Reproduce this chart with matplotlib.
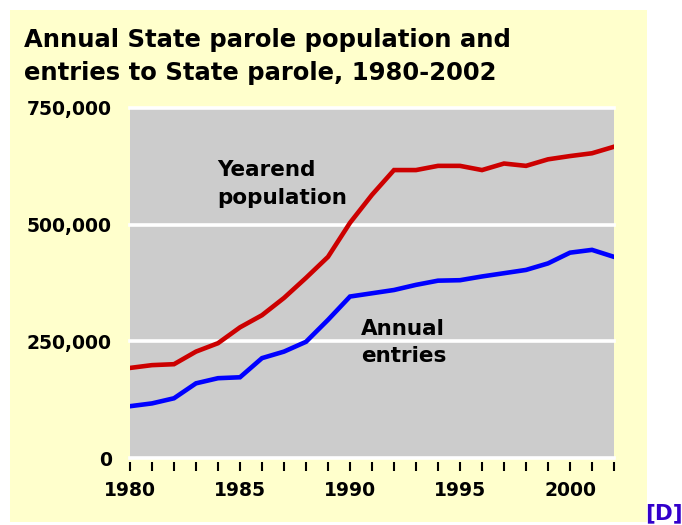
import matplotlib
matplotlib.use("Agg")
import matplotlib.pyplot as plt
from matplotlib.patches import Rectangle
from matplotlib.ticker import FuncFormatter

W, H = 682, 525

years = list(range(1980, 2003))
population = [193, 199, 201, 228, 246, 280, 306, 343, 386, 431, 504, 564, 617,
              617, 626, 626, 617, 631, 626, 640, 647, 653, 667]
entries = [111, 117, 128, 160, 171, 173, 214, 228, 249, 296, 346, 353, 360,
           371, 380, 381, 389, 396, 403, 417, 440, 446, 431]
population = [v * 1000 for v in population]
entries = [v * 1000 for v in entries]
ytick_vals = [0, 250000, 500000, 750000]
xtick_labels = [1980, 1985, 1990, 1995, 2000]

plt.rcParams['font.family'] = ['DejaVu Sans']

fig = plt.figure(figsize=(W / 100, H / 100), dpi=100)
fig.patch.set_facecolor('white')


def fx(x):
    return x / W


def fy(y):
    return 1 - y / H


# yellow panel
fig.patches.append(Rectangle((fx(10), fy(522)), (647 - 10) / W, (522 - 10) / H,
                             transform=fig.transFigure, facecolor='#FFFFCC',
                             edgecolor='none', zorder=-10))

ax = fig.add_axes([fx(130), fy(458), (614 - 130) / W, (458 - 108) / H])
ax.set_zorder(1)
ax.set_facecolor('#CCCCCC')
ax.set_xlim(1980, 2002)
ax.set_ylim(0, 750000)

for v in ytick_vals:
    ax.axhline(v, color='white', lw=2.6, clip_on=False, zorder=1)

ax.plot(years, population, color='#CC0000', lw=3.3, zorder=3,
        solid_joinstyle='miter')
ax.plot(years, entries, color='#0000FF', lw=3.3, zorder=3,
        solid_joinstyle='miter')

for s in ax.spines.values():
    s.set_visible(False)
ax.spines['bottom'].set_position(('outward', 3))

ax.set_xticks(years)
ax.set_xticklabels([str(y) if y in xtick_labels else '' for y in years])
ax.tick_params(axis='x', direction='out', length=6.5, width=1.5, color='black',
               pad=7, labelsize=13.5)
ax.set_yticks(ytick_vals)
ax.yaxis.set_major_formatter(FuncFormatter(lambda v, p: f"{int(v):,}"))
ax.tick_params(axis='y', length=0, pad=13, labelsize=13.5)
for lab in ax.get_xticklabels() + ax.get_yticklabels():
    lab.set_fontweight('bold')

# title
fig.text(fx(24), fy(47), "Annual State parole population and", fontsize=17.5,
         fontweight='bold', va='baseline', ha='left', zorder=5)
fig.text(fx(24), fy(80), "entries to State parole, 1980-2002", fontsize=17.5,
         fontweight='bold', va='baseline', ha='left', zorder=5)

# series labels
fig.text(fx(217), fy(176), "Yearend", fontsize=15.5, fontweight='bold',
         va='baseline', ha='left', zorder=5)
fig.text(fx(217), fy(204), "population", fontsize=15.5, fontweight='bold',
         va='baseline', ha='left', zorder=5)
fig.text(fx(361), fy(335), "Annual", fontsize=15.5, fontweight='bold',
         va='baseline', ha='left', zorder=5)
fig.text(fx(361), fy(362), "entries", fontsize=15.5, fontweight='bold',
         va='baseline', ha='left', zorder=5)

fig.text(fx(683), fy(519), "[D]", fontsize=15.5, fontweight='bold',
         color='#3300CC', va='baseline', ha='right', zorder=5)

fig.savefig('out.png', dpi=100, facecolor='white')
